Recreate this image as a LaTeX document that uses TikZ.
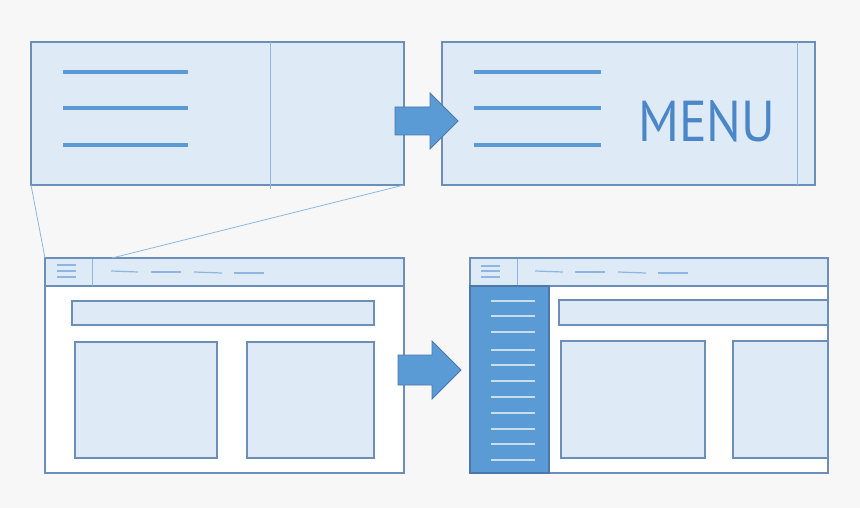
\documentclass[tikz,border=0pt]{standalone}
\usepackage{fontspec}
\newfontfamily\menufont{PT Sans}
\usepackage{graphicx}
\definecolor{bg}{HTML}{F7F7F7}
\definecolor{paneFill}{HTML}{DEEAF6}
\definecolor{paneEdge}{HTML}{6B8FB8}
\definecolor{accent}{HTML}{5B9BD5}
\definecolor{accentEdge}{HTML}{4A78A8}
\definecolor{thinLine}{HTML}{8DB6E2}
\definecolor{menuText}{HTML}{4A86C8}
\definecolor{sideLine}{HTML}{C9DCF0}
\tikzset{
  pane/.style={fill=paneFill, draw=paneEdge, line width=1.2pt},
  burger/.style={draw=accent, line width=4.5pt},
  miniburger/.style={draw=thinLine, line width=1.2pt},
  navline/.style={draw=thinLine, line width=1.2pt},
  divider/.style={draw=thinLine, line width=0.9pt},
  zoomline/.style={draw=thinLine, line width=0.8pt},
  bigarrow/.style={fill=accent, draw=accentEdge, line width=0.9pt, line join=miter},
  sideline/.style={draw=sideLine, line width=1.2pt},
}
\begin{document}
\begin{tikzpicture}[x=1pt,y=-1pt]
\fill[bg] (0,0) rectangle (860,508);
\useasboundingbox (0,0) rectangle (860,508);

% ---- top left: zoomed header
\draw[pane] (31,42) rectangle (404,185);
\coordinate (tlBL) at (31,185);
\coordinate (tlBR) at (404,185);
\draw[divider] (270,42) -- (270,189);
\foreach \yy in {72,108,145} \draw[burger] (63,\yy) -- (188,\yy);

% ---- top right: zoomed header with MENU
\draw[pane] (442,42) rectangle (815,185);
\draw[divider] (797,42) -- (797,185);
\foreach \yy in {72,108,145} \draw[burger] (474,\yy) -- (601,\yy);
\node[text=menuText, anchor=south west, inner sep=0pt] (menu) at (638,142)
  {\resizebox{137pt}{41pt}{\menufont MENU}};

% ---- arrow 1
\draw[bigarrow] (395,107) -- (430,107) -- (430,93) -- (458,121) -- (430,149) -- (430,135) -- (395,135) -- cycle;

% ---- bottom left window
\draw[pane, fill=white] (45,258) rectangle (404,473);
\draw[pane] (45,258) rectangle (404,286);
\coordinate (blTL) at (45,258);
\coordinate (blHook) at (112,258);
\draw[divider] (92,259) -- (92,286);
\foreach \yy in {265,271,277} \draw[miniburger] (57,\yy) -- (76,\yy);
\draw[navline] (111,271) -- (138,272);
\draw[navline] (151,272) -- (181,272);
\draw[navline] (194,272) -- (222,273);
\draw[navline] (234,273) -- (264,273);
\draw[pane] (72,301) rectangle (374,325);
\draw[pane] (75,342) rectangle (217,458);
\draw[pane] (247,342) rectangle (374,458);

% zoom lines
\draw[zoomline] (tlBL) -- (blTL);
\draw[zoomline] (tlBR) -- (blHook);

% ---- arrow 2
\draw[bigarrow] (398,355) -- (432,355) -- (432,341) -- (461,370) -- (432,399) -- (432,385) -- (398,385) -- cycle;

% ---- bottom right window with sidebar
\draw[pane, fill=white] (470,258) rectangle (828,473);
\draw[pane] (559,300) rectangle (828,325);
\draw[pane] (561,341) rectangle (705,458);
\draw[pane] (733,341) rectangle (828,458);
\draw[pane, fill=white, fill opacity=0] (470,258) rectangle (828,473);
\draw[pane] (470,258) rectangle (828,286);
\draw[divider] (517,259) -- (517,286);
\foreach \yy in {266,271,277} \draw[miniburger] (481,\yy) -- (500,\yy);
\draw[navline] (535,271) -- (563,272);
\draw[navline] (575,272) -- (605,272);
\draw[navline] (618,272) -- (646,273);
\draw[navline] (658,273) -- (688,273);
\draw[fill=accent, draw=accentEdge, line width=1.2pt] (470,286) rectangle (549,473);
\foreach \yy in {301,316,332,350,365,381,397,413,429,444,460}
  \draw[sideline] (491,\yy) -- (535,\yy);
\end{tikzpicture}
\end{document}
